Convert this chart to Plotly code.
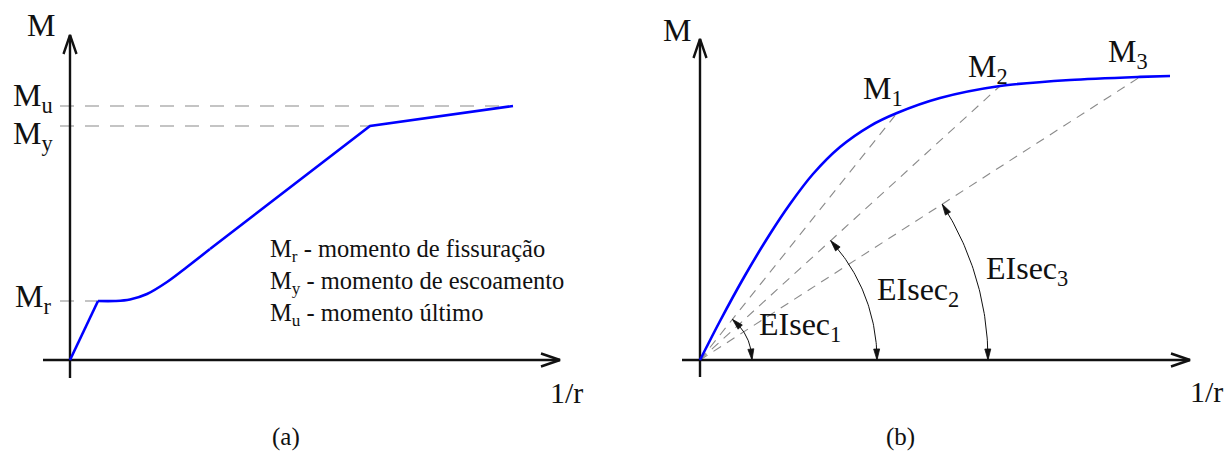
import math
import plotly.graph_objects as go

W, H = 1230, 454

# ---------------- data ----------------
# (a) moment-curvature relation with cracking, yielding and ultimate levels
a_curvature = [0.0, 0.0632, 0.1016, 0.1354, 0.1738, 0.2190, 0.2641, 0.3160, 0.6772, 1.0]
a_moment = [0.0, 0.2323, 0.2323, 0.2382, 0.2598, 0.3071, 0.3661, 0.4370, 0.9213, 1.0]
a_level_labels = ["M<sub>r</sub>", "M<sub>y</sub>", "M<sub>u</sub>"]
a_level_index = [1, 8, 9]
a_legend = [
    "M<sub>r</sub> - momento de fissuração",
    "M<sub>y</sub> - momento de escoamento",
    "M<sub>u</sub> - momento último",
]

# (b) non-linear moment-curvature curve and secant stiffnesses
b_curvature = [0.0, 0.0426, 0.0957, 0.1489, 0.1915, 0.2404, 0.2979, 0.3617,
               0.4191, 0.5106, 0.6383, 0.7872, 0.9362, 1.0]
b_moment = [0.0, 0.1373, 0.2975, 0.4437, 0.5493, 0.6549, 0.7500, 0.8239,
            0.8697, 0.9225, 0.9648, 0.9859, 0.9968, 1.0]
b_point_labels = ["M<sub>1</sub>", "M<sub>2</sub>", "M<sub>3</sub>"]
b_secant_index = [8, 10, 12]
b_secant_labels = ["EIsec<sub>1</sub>", "EIsec<sub>2</sub>", "EIsec<sub>3</sub>"]

# ---------------- layout geometry (pixels) ----------------
FONT = "Liberation Serif, Times New Roman, serif"
BLUE = "#0000ff"
INK = "#111111"
GREY = "#8a8a8a"
LABEL_SIZE = 32

panels = {
    "a": dict(ox=70, oy=360, sx=443, sy=254, px0=0, px1=615, xa="x", ya="y"),
    "b": dict(ox=700, oy=360, sx=470, sy=284, px0=615, px1=1230, xa="x2", ya="y2"),
}


def to_data(p, px, py):
    return (px - p["ox"]) / p["sx"], (p["oy"] - py) / p["sy"]


def to_px(p, x, y):
    return p["ox"] + x * p["sx"], p["oy"] - y * p["sy"]


fig = go.Figure()


def add_line(p, pts_px, color=INK, width=2.4, dash=None, fill=None):
    xs, ys = zip(*[to_data(p, *q) for q in pts_px])
    fig.add_trace(go.Scatter(
        x=list(xs), y=list(ys), mode="lines", xaxis=p["xa"], yaxis=p["ya"],
        line=dict(color=color, width=width, dash=dash),
        fill=fill, fillcolor=color if fill else None,
        hoverinfo="skip", showlegend=False))


def add_axes(p, left, bottom, top_tip, right_tip):
    ox, oy = p["ox"], p["oy"]
    L, hw = 19, 6.5
    add_line(p, [(left, oy), (right_tip, oy)])
    add_line(p, [(ox, bottom), (ox, top_tip)])
    add_line(p, [(right_tip - L, oy - hw), (right_tip, oy), (right_tip - L, oy + hw)])
    add_line(p, [(ox - hw, top_tip + L), (ox, top_tip), (ox + hw, top_tip + L)])


def text(px, py, s, size, xanchor="center", yanchor="middle"):
    fig.add_annotation(x=px / W, y=1 - py / H, xref="paper", yref="paper",
                       text=s, showarrow=False, xanchor=xanchor, yanchor=yanchor,
                       font=dict(family=FONT, size=size, color=INK))


# ---------------- panel (a) ----------------
pa = panels["a"]
# dashed reference levels from the vertical axis to the curve
for idx in a_level_index:
    xe, ye = a_curvature[idx], a_moment[idx]
    fig.add_trace(go.Scatter(
        x=[-10 / pa["sx"], xe], y=[ye, ye], mode="lines", xaxis="x", yaxis="y",
        line=dict(color=GREY, width=1.2, dash="14px,11px"),
        hoverinfo="skip", showlegend=False))

add_axes(pa, left=43, bottom=378, top_tip=35, right_tip=560)

# curve: linear to cracking, smooth transition, linear to yield, then hardening
seg_lin1 = slice(0, 2)
seg_tr = slice(1, 8)
seg_lin2 = slice(7, 10)
for sl, shape in [(seg_lin1, "linear"), (seg_tr, "spline"), (seg_lin2, "linear")]:
    fig.add_trace(go.Scatter(
        x=a_curvature[sl], y=a_moment[sl], mode="lines", xaxis="x", yaxis="y",
        line=dict(color=BLUE, width=2.6, shape=shape, smoothing=1.0),
        hoverinfo="skip", showlegend=False))

text(41, 25, "M", LABEL_SIZE)
# level labels: M_r beside its tick, M_u above and M_y below their dashed lines
level_label_offset = [-2, 10, -9]
for lab, idx, off in zip(a_level_labels, a_level_index, level_label_offset):
    _, py = to_px(pa, 0, a_moment[idx])
    text(33, py + off, lab, LABEL_SIZE)
for i, s in enumerate(a_legend):
    text(268, 251 + 31.5 * i, s, 24.5, xanchor="left")
text(566, 392, "1/r", 30)
text(286, 453, "(a)", 25, yanchor="bottom")

# ---------------- panel (b) ----------------
pb = panels["b"]
for idx in b_secant_index:
    fig.add_trace(go.Scatter(
        x=[0, b_curvature[idx]], y=[0, b_moment[idx]], mode="lines",
        xaxis="x2", yaxis="y2",
        line=dict(color=GREY, width=1.1, dash="9px,7px"),
        hoverinfo="skip", showlegend=False))

add_axes(pb, left=682, bottom=377, top_tip=39, right_tip=1190)

fig.add_trace(go.Scatter(
    x=b_curvature, y=b_moment, mode="lines", xaxis="x2", yaxis="y2",
    line=dict(color=BLUE, width=2.6, shape="spline", smoothing=0.8),
    hoverinfo="skip", showlegend=False))

# angle arcs between the 1/r axis and each secant line
arc_radius = [52, 177, 288]
AL, AHW = 11, 3.0
ox, oy = pb["ox"], pb["oy"]
for idx, r in zip(b_secant_index, arc_radius):
    sx, sy = to_px(pb, b_curvature[idx], b_moment[idx])
    theta = math.atan2(oy - sy, sx - ox)
    n = 60
    pts = [(ox + r * math.cos(theta * k / n), oy - r * math.sin(theta * k / n))
           for k in range(n + 1)]
    add_line(pb, pts, width=1.0)
    for phi_tip, phi_base in [(0.0, AL / r), (theta, theta - AL / r)]:
        tx, ty = ox + r * math.cos(phi_tip), oy - r * math.sin(phi_tip)
        bx, by = ox + r * math.cos(phi_base), oy - r * math.sin(phi_base)
        dx, dy = tx - bx, ty - by
        d = math.hypot(dx, dy)
        nx, ny = -dy / d * AHW, dx / d * AHW
        add_line(pb, [(tx, ty), (bx + nx, by + ny), (bx - nx, by - ny), (tx, ty)],
                 width=0.8, fill="toself")

text(677, 30, "M", LABEL_SIZE)
label_shift = [(-14, -23), (-12, -17), (-12, -23)]
for lab, idx, (dxp, dyp) in zip(b_point_labels, b_secant_index, label_shift):
    px, py = to_px(pb, b_curvature[idx], b_moment[idx])
    text(px + dxp, py + dyp, lab, LABEL_SIZE)
for s, (px, py) in zip(b_secant_labels, [(800, 326), (918, 291), (1027, 270)]):
    text(px, py, s, LABEL_SIZE)
text(1206, 391, "1/r", 30)
text(900, 453, "(b)", 25, yanchor="bottom")

# ---------------- axes / canvas ----------------
for key, p in panels.items():
    xr = [(p["px0"] - p["ox"]) / p["sx"], (p["px1"] - p["ox"]) / p["sx"]]
    yr = [(p["oy"] - H) / p["sy"], p["oy"] / p["sy"]]
    dom = [p["px0"] / W, p["px1"] / W]
    ax = dict(visible=False, showgrid=False, zeroline=False, fixedrange=True)
    xname = "xaxis" if key == "a" else "xaxis2"
    yname = "yaxis" if key == "a" else "yaxis2"
    fig.update_layout({
        xname: dict(ax, range=xr, domain=dom,
                    **({} if key == "a" else {"anchor": "y2"})),
        yname: dict(ax, range=yr, domain=[0, 1],
                    **({} if key == "a" else {"anchor": "x2"})),
    })

fig.update_layout(
    width=W, height=H, margin=dict(l=0, r=0, t=0, b=0),
    paper_bgcolor="white", plot_bgcolor="white", showlegend=False,
)

fig.write_html("out.html", config={"displayModeBar": False})
